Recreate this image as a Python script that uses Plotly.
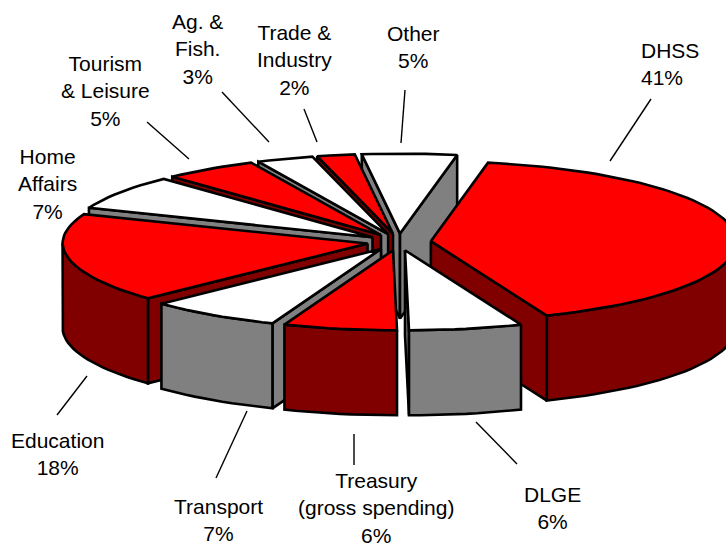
import math
import plotly.graph_objects as go

categories = ["DHSS", "DLGE", "Treasury", "Transport", "Education",
              "Home Affairs", "Tourism & Leisure", "Ag. & Fish.", "Trade & Industry", "Other"]
values = [41, 6, 6, 7, 18, 7, 5, 3, 2, 5]
label_text = ["DHSS<br>41%", "DLGE<br>6%", "Treasury<br>(gross spending)<br>6%", "Transport<br>7%",
              "Education<br>18%", "Home<br>Affairs<br>7%", "Tourism<br>& Leisure<br>5%",
              "Ag. &<br>Fish.<br>3%", "Trade &<br>Industry<br>2%", "Other<br>5%"]
top_colors = ["#FF0000", "#FFFFFF", "#FF0000", "#FFFFFF", "#FF0000",
              "#FFFFFF", "#FF0000", "#FFFFFF", "#FF0000", "#FFFFFF"]
side_colors = ["#800000", "#808080", "#800000", "#808080", "#800000",
               "#808080", "#800000", "#808080", "#800000", "#808080"]

# layout geometry
W, H = 726, 547
CX, CY = 399, 242
RX, RY = 305, 80
DEPTH = 85
EXPLODE = 32
START = 10.8
FRONT_SKEW = 4
label_pos = [(670, 64), (552, 508), (376, 508), (218, 520), (57, 454),
             (47, 184), (105, 91), (197, 49), (294, 60), (413, 47)]
label_align = ["left"] + ["center"] * 9
leaders = [((610, 161), (651, 99)), ((476, 422), (517, 464)), ((354, 434), (354, 465)),
           ((247, 411), (216, 478)), ((87, 376), (57, 415)), None,
           ((189, 159), (147, 122)), ((269, 142), (222, 92)), ((317, 142), (304, 109)),
           ((401, 143), (405, 90))]


def pt(a):
    t = math.radians(a)
    return RX * math.sin(t) + FRONT_SKEW * max(0, -math.cos(t)), -RY * math.cos(t)


fig = go.Figure()


def face(xs, ys, color):
    fig.add_trace(go.Scatter(x=xs, y=ys, mode="lines", fill="toself", fillcolor=color,
                             line=dict(color="black", width=2.6), hoverinfo="skip",
                             showlegend=False))


slices = []
a = START
for i, v in enumerate(values):
    span = v * 3.6
    slices.append((i, a, a + span))
    a += span

for i, a0, a1 in sorted(slices, key=lambda s: -math.cos(math.radians((s[1] + s[2]) / 2))):
    mid = math.radians((a0 + a1) / 2)
    ax = CX + EXPLODE * math.sin(mid)
    ay = CY - EXPLODE * RY / RX * math.cos(mid)
    n = max(2, int((a1 - a0) / 2))
    arc = [a0 + (a1 - a0) * k / n for k in range(n + 1)]
    rim = [(ax + pt(t)[0], ay + pt(t)[1]) for t in arc]
    # radial cut faces
    if math.sin(math.radians(a0)) < 0:
        x0, y0 = rim[0]
        face([ax, x0, x0, ax, ax], [ay, y0, y0 + DEPTH, ay + DEPTH, ay], side_colors[i])
    if math.sin(math.radians(a1)) > 0:
        x1, y1 = rim[-1]
        face([ax, x1, x1, ax, ax], [ay, y1, y1 + DEPTH, ay + DEPTH, ay], side_colors[i])
    # outer wall
    lo, hi = max(a0, 90), min(a1, 270)
    if hi > lo:
        m = max(2, int((hi - lo) / 2))
        fa = [lo + (hi - lo) * k / m for k in range(m + 1)]
        fr = [(ax + pt(t)[0], ay + pt(t)[1]) for t in fa]
        xs = [p[0] for p in fr] + [p[0] for p in reversed(fr)] + [fr[0][0]]
        ys = [p[1] for p in fr] + [p[1] + DEPTH for p in reversed(fr)] + [fr[0][1]]
        face(xs, ys, side_colors[i])
    # top face
    face([ax] + [p[0] for p in rim] + [ax], [ay] + [p[1] for p in rim] + [ay], top_colors[i])

for seg in leaders:
    if seg:
        fig.add_trace(go.Scatter(x=[seg[0][0], seg[1][0]], y=[seg[0][1], seg[1][1]], mode="lines",
                                 line=dict(color="black", width=1.4), hoverinfo="skip", showlegend=False))

for text, (x, y), al in zip(label_text, label_pos, label_align):
    fig.add_annotation(x=x, y=y, text=text, showarrow=False, xanchor="center", yanchor="middle",
                       align=al, font=dict(family="Liberation Sans", size=21, color="black"))

fig.update_layout(width=W, height=H, margin=dict(l=0, r=0, t=0, b=0), autosize=False,
                  paper_bgcolor="white", plot_bgcolor="white", showlegend=False,
                  xaxis=dict(range=[0, W], visible=False, fixedrange=True),
                  yaxis=dict(range=[H, 0], visible=False, fixedrange=True))
fig.write_html("out.html", config={"displayModeBar": False},
               post_script="document.body.style.margin='0';document.body.style.overflow='hidden';")
